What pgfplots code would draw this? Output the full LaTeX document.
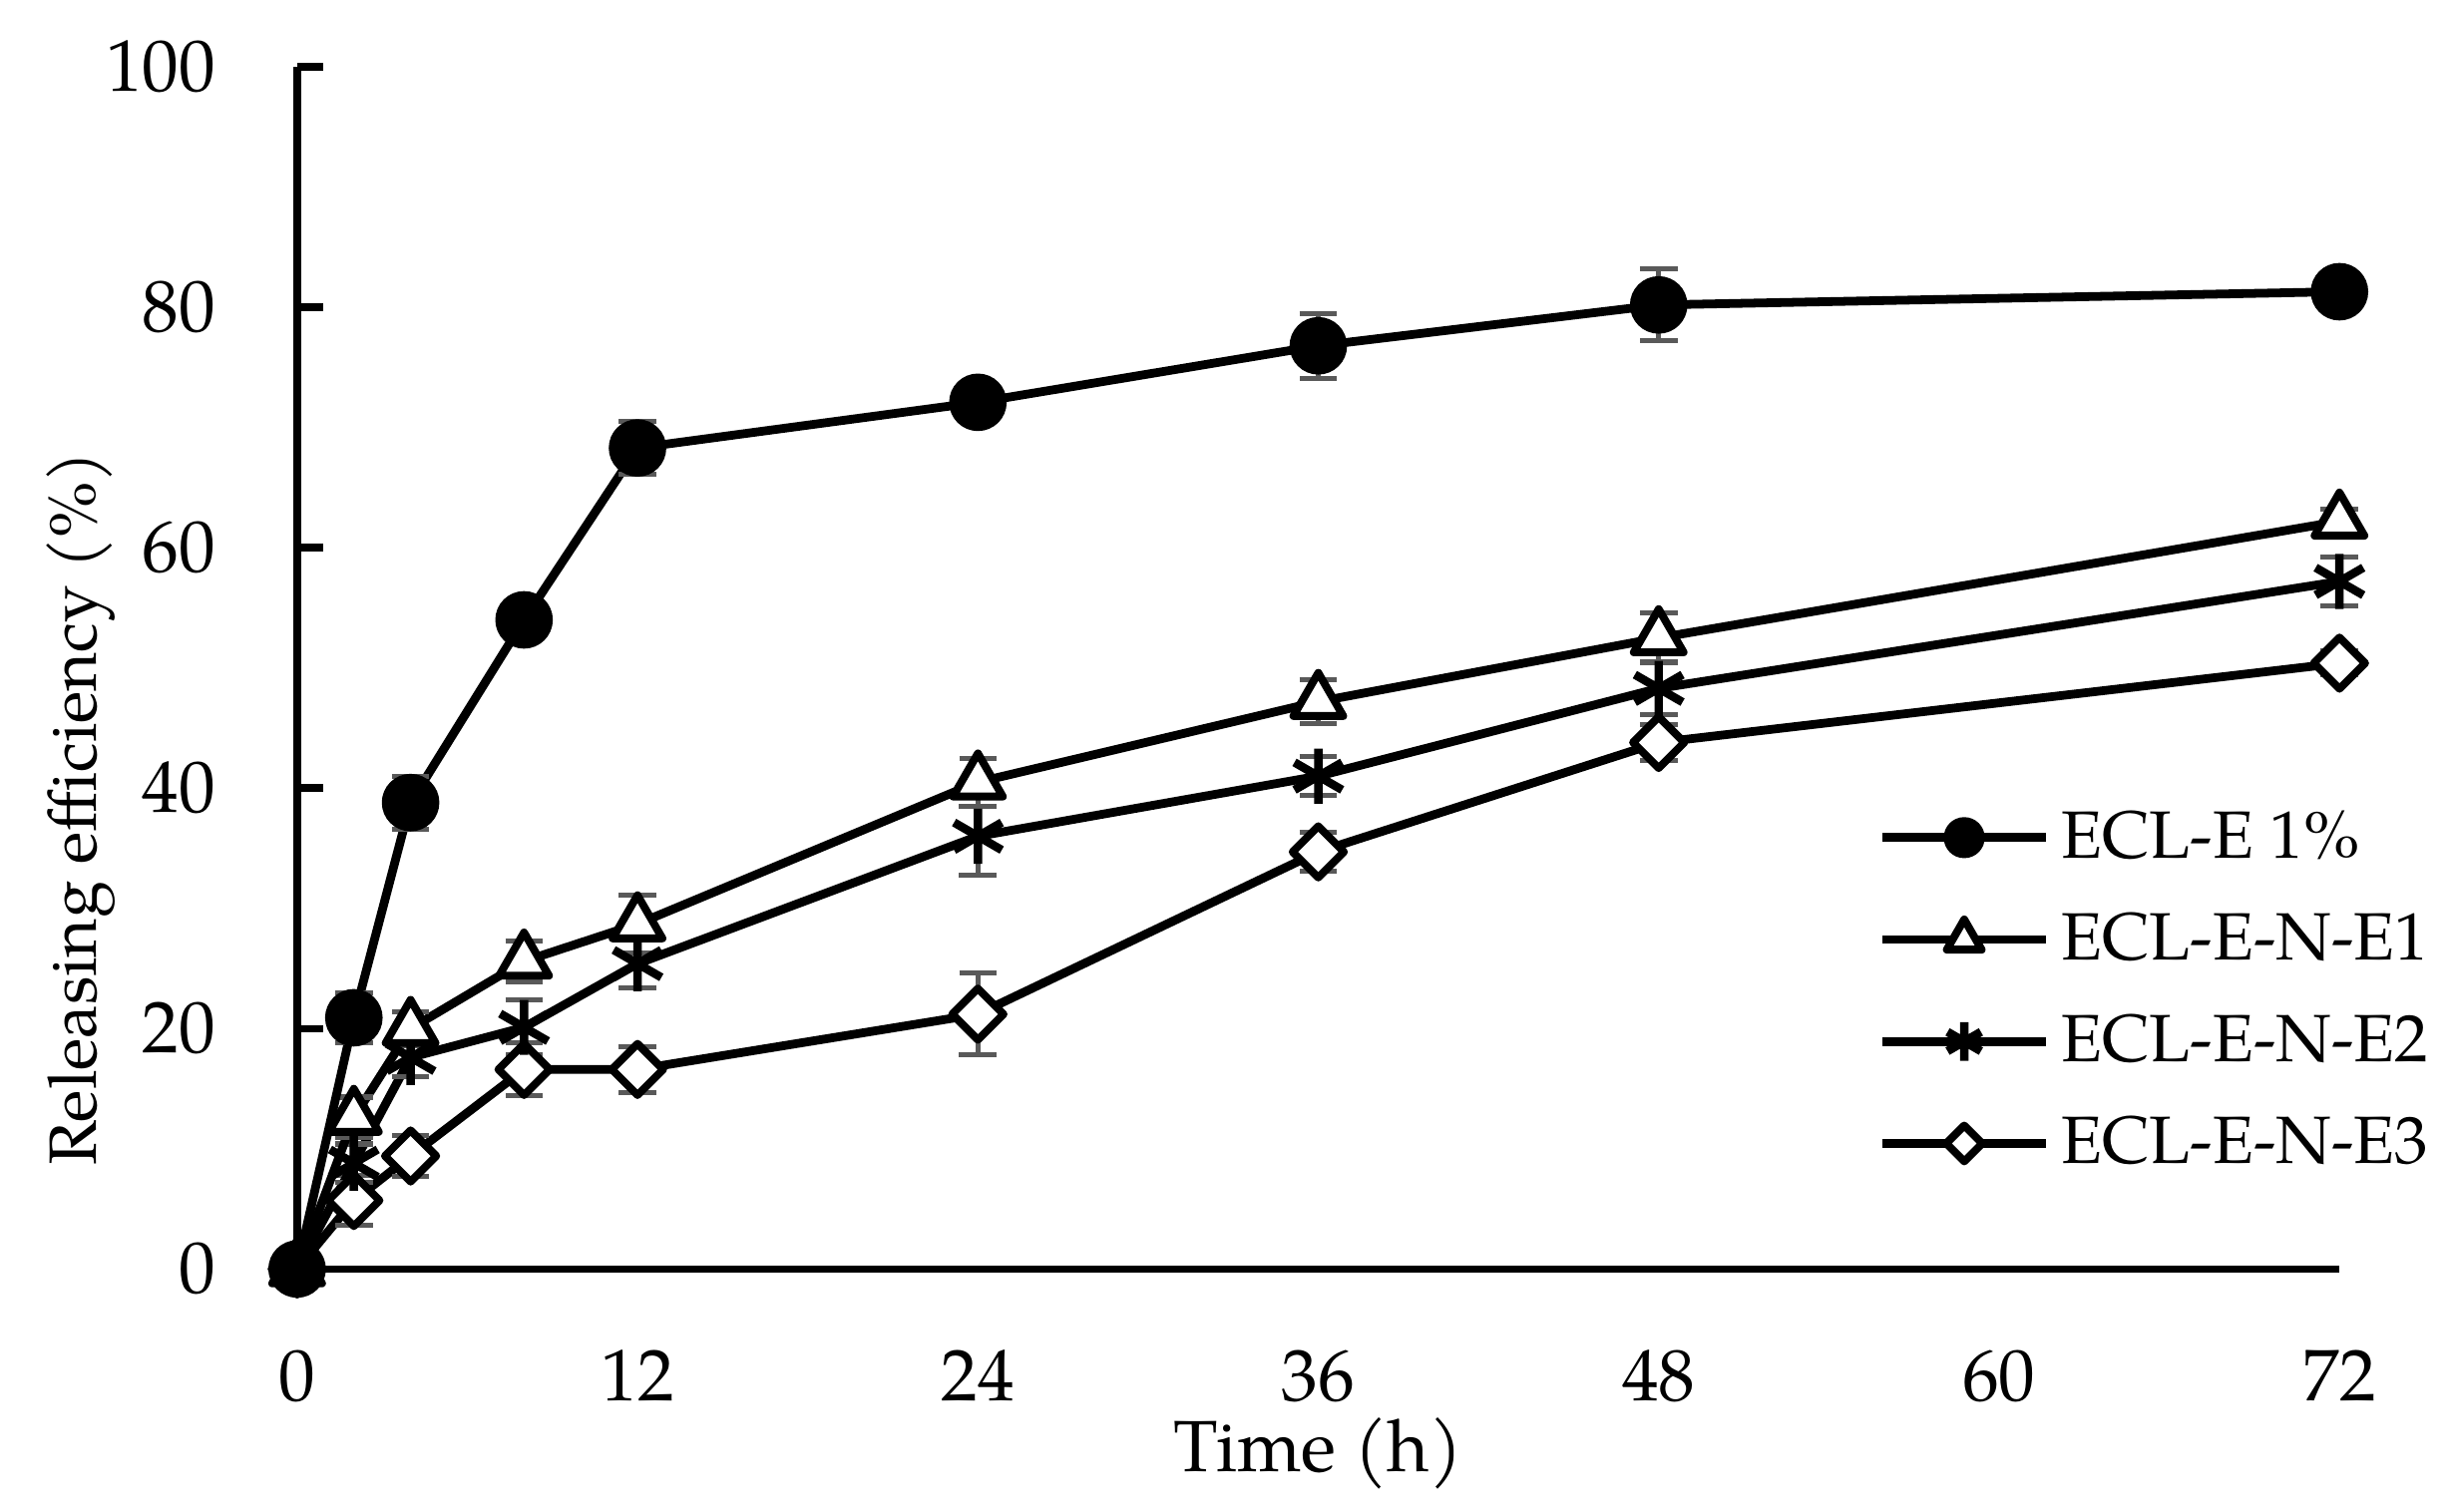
\documentclass[border=0pt]{standalone}
\usepackage{fontspec}
\setmainfont{TeX Gyre Pagella}
\usepackage{pgfplots}
\pgfplotsset{compat=1.18}
\definecolor{errgray}{HTML}{595959}
\begin{document}
\begin{tikzpicture}
\begin{axis}[
  scale only axis,
  width=326.5pt, height=192.2pt,
  xmin=0, xmax=72, ymin=0, ymax=100,
  axis lines=left,
  axis line style={-, line width=1.2pt},
  clip=false,
  xtick={0,12,24,36,48,60,72},
  ytick={0,20,40,60,80,100},
  x tick style={draw=none},
  y tick style={line width=1.2pt, black},
  major tick length=4.2pt,
  tick align=inside,
  /pgf/number format/assume math mode=true,
  ticklabel style={font=\fontsize{11.7pt}{14pt}\selectfont},
  yticklabel style={anchor=east, inner sep=0pt, xshift=-12.8pt},
  xticklabel style={anchor=base, inner sep=0pt, yshift=-21.1pt},
  xlabel={Time (h)},
  ylabel={Releasing efficiency (\%)},
  xlabel style={at={(axis description cs:0.5,-0.1686)}, anchor=base, inner sep=0pt, font=\fontsize{11.6pt}{14pt}\selectfont},
  ylabel style={at={(axis description cs:-0.0983,0.383)}, anchor=base, inner sep=0pt, font=\fontsize{10.7pt}{13pt}\selectfont},
  reverse legend,
  legend style={draw=none, fill=none, inner sep=0pt, outer sep=0pt,
    at={(axis description cs:0.774,0.395)}, anchor=north west,
    font=\fontsize{10.7pt}{13pt}\selectfont,
    nodes={inner sep=1.7pt, text height=8.5pt, text depth=2pt},
    row sep=2.4pt,
    cells={anchor=west}},
  legend image code/.code={%
    \draw[mark repeat=2, mark phase=2, every mark/.append style={scale=0.7}]
      plot coordinates {(0pt,0pt) (13.1pt,0pt) (26.2pt,0pt)};},
  every axis plot/.append style={line width=1.4pt, black, line join=round,
    error bars/y dir=both, error bars/y explicit,
    error bars/error bar style={line width=0.8pt, color=errgray, solid},
    error bars/error mark options={rotate=90, mark size=3pt, line width=0.8pt, color=errgray}},
]
\addplot[color=black, mark=square*, mark size=2.9pt, mark options={fill=white, draw=black, line width=1.25pt, rotate=45, solid}]
  coordinates {(0,0) +- (0,0) (2,5.7) +- (0,2.1) (4,9.4) +- (0,1.7) (8,16.6) +- (0,2.2)
  (12,16.6) +- (0,1.9) (24,21.2) +- (0,3.4) (36,34.7) +- (0,1.6) (48,43.8) +- (0,1.5) (72,50.4) +- (0,1.0)};
\addlegendentry{ECL-E-N-E3}
\addplot[color=black, mark=asterisk, mark size=4.4pt, mark options={draw=black, line width=1.35pt, solid}]
  coordinates {(0,0) +- (0,0) (2,8.8) +- (0,1.6) (4,17.6) +- (0,1.6) (8,20.1) +- (0,2.3)
  (12,25.4) +- (0,2.0) (24,36.0) +- (0,3.2) (36,41.0) +- (0,1.6) (48,48.3) +- (0,2.2) (72,57.2) +- (0,2.0)};
\addlegendentry{ECL-E-N-E2}
\addplot[color=black, mark=triangle*, mark size=4.6pt, mark options={fill=white, draw=black, line width=1.25pt, solid}]
  coordinates {(0,0) +- (0,0) (2,12.6) +- (0,1.7) (4,20.0) +- (0,1.4) (8,25.6) +- (0,1.7)
  (12,28.7) +- (0,2.4) (24,40.5) +- (0,2.0) (36,47.2) +- (0,1.8) (48,52.5) +- (0,2.1) (72,62.2) +- (0,1.0)};
\addlegendentry{ECL-E-N-E1}
\addplot[color=black, mark=*, mark size=4.4pt, mark options={fill=black, draw=black, line width=0.4pt, solid}]
  coordinates {(0,0) +- (0,0) (2,20.9) +- (0,2.1) (4,38.8) +- (0,2.2) (8,54.0) +- (0,1.2)
  (12,68.3) +- (0,2.2) (24,72.1) +- (0,1.0) (36,76.8) +- (0,2.7) (48,80.2) +- (0,3.0) (72,81.3) +- (0,1.0)};
\addlegendentry{ECL-E 1\%}
\end{axis}
\pgfresetboundingbox
\path[use as bounding box] (-47.5pt,-38.8pt) rectangle (344.0pt,202.9pt);
\end{tikzpicture}
\end{document}
